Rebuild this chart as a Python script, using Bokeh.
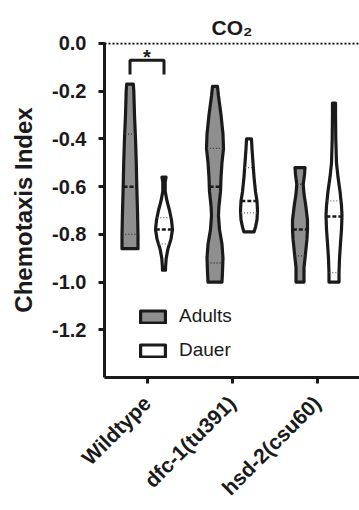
import math
import numpy as np
from bokeh.plotting import figure
from bokeh.models import Range1d, FixedTicker, Span, Legend, LegendItem, PrintfTickFormatter, Title
from bokeh.core.properties import value
from bokeh.embed import file_html
from bokeh.resources import INLINE

# ---------------- data ----------------
categories = ["Wildtype", "dfc-1(tu391)", "hsd-2(csu60)"]
stages = ["Adults", "Dauer"]
y_ticks = [0.0, -0.2, -0.4, -0.6, -0.8, -1.0, -1.2]
title_text = "CO\u2082"

# violin outlines: chemotaxis index levels (top -> bottom) and relative density
wt_adult_y = [-0.17, -0.2, -0.3, -0.4, -0.5, -0.6, -0.7, -0.8, -0.86]
wt_adult_d = [0.39, 0.45, 0.53, 0.65, 0.74, 0.80, 0.88, 0.94, 0.94]
wt_dauer_y = [-0.56, -0.58, -0.62, -0.66, -0.70, -0.74, -0.78, -0.82, -0.86, -0.90, -0.94, -0.95]
wt_dauer_d = [0.24, 0.14, 0.14, 0.35, 0.65, 0.88, 1.0, 0.82, 0.47, 0.26, 0.18, 0.18]
dfc_adult_y = [-0.18, -0.22, -0.3, -0.38, -0.44, -0.5, -0.56, -0.62, -0.68, -0.72, -0.78, -0.84, -0.9, -0.96, -1.0]
dfc_adult_d = [0.29, 0.41, 0.71, 0.94, 1.0, 0.82, 0.71, 0.65, 0.47, 0.41, 0.53, 0.82, 0.94, 0.88, 0.82]
dfc_dauer_y = [-0.40, -0.44, -0.5, -0.56, -0.62, -0.66, -0.70, -0.74, -0.77, -0.79]
dfc_dauer_d = [0.29, 0.35, 0.47, 0.59, 0.76, 0.94, 1.0, 0.94, 0.76, 0.59]
hsd_adult_y = [-0.52, -0.55, -0.59, -0.63, -0.68, -0.74, -0.78, -0.82, -0.88, -0.94, -1.0]
hsd_adult_d = [0.59, 0.53, 0.38, 0.47, 0.68, 0.88, 0.88, 0.82, 0.65, 0.47, 0.47]
hsd_dauer_y = [-0.25, -0.3, -0.4, -0.5, -0.56, -0.62, -0.68, -0.72, -0.78, -0.84, -0.9, -0.96, -1.0]
hsd_dauer_d = [0.18, 0.18, 0.21, 0.29, 0.47, 0.71, 0.88, 0.94, 0.88, 0.76, 0.65, 0.59, 0.59]

# quartiles: [upper quartile, median, lower quartile]
wt_adult_q = [-0.38, -0.60, -0.80]
wt_dauer_q = [-0.73, -0.78, -0.84]
dfc_adult_q = [-0.44, -0.60, -0.92]
dfc_dauer_q = [-0.52, -0.66, -0.71]
hsd_adult_q = [-0.59, -0.78, -0.89]
hsd_dauer_q = [-0.66, -0.725, -0.96]

# significance: Wildtype adults vs dauer
sig_category = "Wildtype"
sig_label = "*"

# ---------------- styling ----------------
FONT = "Liberation Sans"
INK = "#1a1a1a"
ADULT_FILL = "#8f8f8f"
DAUER_FILL = "#ffffff"
MAXW = 0.10          # max half width (x units)
OFFSET = {"Adults": -0.2, "Dauer": 0.2}

p = figure(width=359, height=510, output_backend="svg", toolbar_location=None,
           x_range=Range1d(0, 3), y_range=Range1d(-1.4, 1 / 240),
           min_border_left=104, min_border_right=0, min_border_top=42, min_border_bottom=131)
p.outline_line_color = None
p.xgrid.visible = False
p.ygrid.visible = False
p.background_fill_color = "white"

p.title = Title(text=title_text, align="center", text_font=FONT, text_font_style="bold",
                text_font_size="21px", text_color=INK, standoff=8)

cat_x = {c: i + 0.5 for i, c in enumerate(categories)}

violins = [
    ("Wildtype", "Adults", wt_adult_y, wt_adult_d, wt_adult_q),
    ("Wildtype", "Dauer", wt_dauer_y, wt_dauer_d, wt_dauer_q),
    ("dfc-1(tu391)", "Adults", dfc_adult_y, dfc_adult_d, dfc_adult_q),
    ("dfc-1(tu391)", "Dauer", dfc_dauer_y, dfc_dauer_d, dfc_dauer_q),
    ("hsd-2(csu60)", "Adults", hsd_adult_y, hsd_adult_d, hsd_adult_q),
    ("hsd-2(csu60)", "Dauer", hsd_dauer_y, hsd_dauer_d, hsd_dauer_q),
]

legend_renderers = {}
for cat, stage, ys, dens, qs in violins:
    cx = cat_x[cat] + OFFSET[stage]
    ys = np.array(ys)
    hw = np.array(dens) * MAXW
    xs = np.concatenate([cx - hw, (cx + hw)[::-1]])
    yy = np.concatenate([ys, ys[::-1]])
    fill = ADULT_FILL if stage == "Adults" else DAUER_FILL
    r = p.patch(xs, yy, fill_color=fill, line_color=INK, line_width=3.2, line_join="round")
    legend_renderers.setdefault(stage, r)
    for i, q in enumerate(qs):
        w = float(np.interp(q, ys[::-1], hw[::-1])) - 0.004
        if i == 1:
            p.segment(x0=[cx - w], x1=[cx + w], y0=[q], y1=[q], line_color=INK,
                      line_width=2.5, line_dash="4 2")
        else:
            p.segment(x0=[cx - w], x1=[cx + w], y0=[q], y1=[q],
                      line_color="#333333" if stage == "Adults" else "#666666",
                      line_width=1.3, line_dash="1 2")

# significance bracket
sx0 = cat_x[sig_category] + OFFSET["Adults"]
sx1 = cat_x[sig_category] + OFFSET["Dauer"]
p.line(x=[sx0, sx0, sx1, sx1], y=[-0.13, -0.07, -0.07, -0.13], line_color=INK, line_width=3)
p.text(x=[(sx0 + sx1) / 2], y=[-0.058], text=[sig_label], text_align="center",
       text_baseline="alphabetic", text_font=value(FONT), text_font_style="bold",
       text_font_size="20px", text_color=INK)

# dotted zero line
p.add_layout(Span(location=0, dimension="width", line_color="#000000", line_width=2, line_dash="2 2"))

# axes
ya = p.yaxis[0]
ya.ticker = FixedTicker(ticks=y_ticks)
ya.formatter = PrintfTickFormatter(format="%.1f")
ya.axis_line_width = 3
ya.axis_line_color = INK
ya.major_tick_line_width = 3
ya.major_tick_line_color = INK
ya.major_tick_out = 6
ya.major_tick_in = 0
ya.minor_tick_line_color = None
ya.major_label_standoff = 12
ya.major_label_text_font = FONT
ya.major_label_text_font_style = "bold"
ya.major_label_text_font_size = "20px"
ya.major_label_text_color = INK
ya.axis_label = "Chemotaxis Index"
ya.axis_label_text_font = FONT
ya.axis_label_text_font_style = "bold"
ya.axis_label_text_font_size = "24px"
ya.axis_label_text_color = INK
ya.axis_label_standoff = 12

xa = p.xaxis[0]
xa.ticker = FixedTicker(ticks=[cat_x[c] for c in categories])
xa.major_label_overrides = {cat_x[c]: c for c in categories}
xa.axis_line_width = 3
xa.axis_line_color = INK
xa.major_tick_line_width = 3
xa.major_tick_line_color = INK
xa.major_tick_out = 6
xa.major_tick_in = 0
xa.minor_tick_line_color = None
xa.major_label_orientation = math.pi / 4
xa.major_label_standoff = 16
xa.major_label_text_font = FONT
xa.major_label_text_font_style = "bold"
xa.major_label_text_font_size = "21px"
xa.major_label_text_color = INK

legend = Legend(items=[LegendItem(label=s, renderers=[legend_renderers[s]]) for s in stages],
                location=(33, 16), orientation="vertical",
                glyph_width=31, glyph_height=15, label_height=15, spacing=12,
                label_standoff=11, padding=0, margin=0,
                label_text_font=FONT, label_text_font_size="19px", label_text_color=INK,
                border_line_color=None, background_fill_alpha=0)
p.add_layout(legend)

open("out.html", "w").write(file_html(p, INLINE))
